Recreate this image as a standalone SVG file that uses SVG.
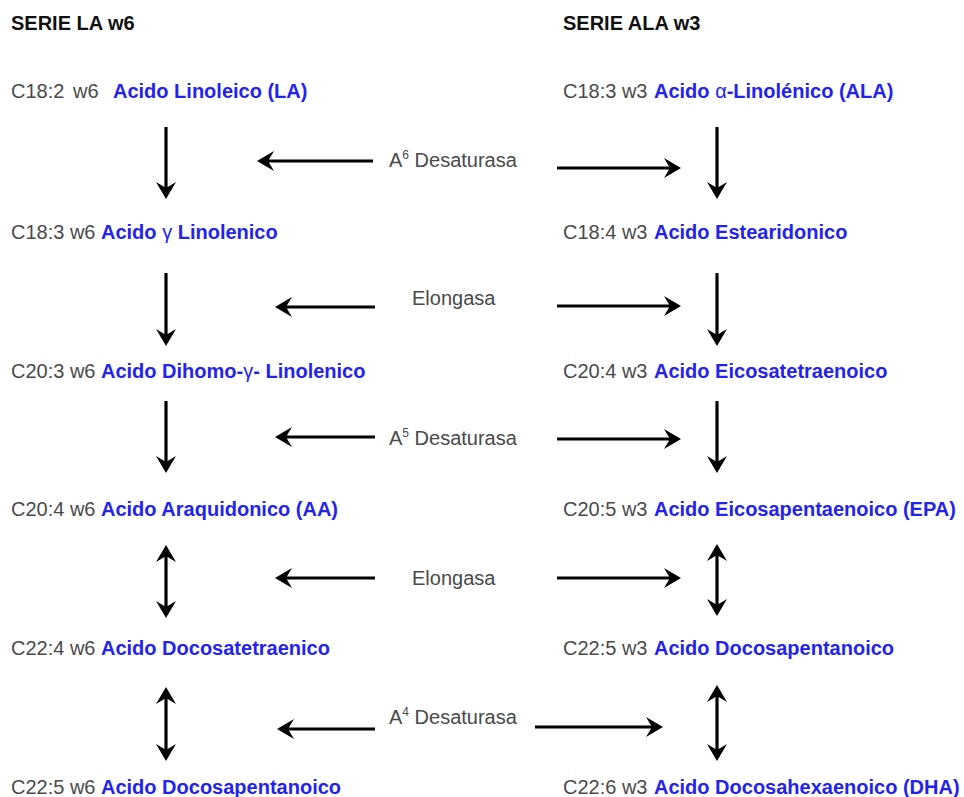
<svg xmlns="http://www.w3.org/2000/svg" width="964" height="797" viewBox="0 0 964 797">
<defs>
<marker id="ah" markerUnits="userSpaceOnUse" markerWidth="18" markerHeight="22" refX="8" refY="11" orient="auto-start-reverse" viewBox="0 0 18 22">
<path d="M17,11 L0,1 L6,11 L0,21 Z" fill="#000"/>
</marker>
</defs>
<style>
text{font-family:"Liberation Sans",Arial,sans-serif;font-size:20px}
.hd{font-weight:bold;fill:#111}
.cd{fill:#4a4a4a}
.nm{font-weight:bold;fill:#2323f0}
.en{fill:#4a4a4a}
.sup{font-size:12px}
.gr{font-weight:normal}
.ar{stroke:#000;stroke-width:3.2;fill:none;marker-end:url(#ah)}
.ad{stroke:#000;stroke-width:3.2;fill:none;marker-end:url(#ah);marker-start:url(#ah)}
</style>
<rect width="964" height="797" fill="#fff"/>
<g id="headers">
<text class="hd" x="11" y="30">SERIE LA w6</text>
<text class="hd" x="563" y="30">SERIE ALA w3</text>
</g>
<g id="la"><text class="cd" x="11" y="98">C18:2</text><text class="cd" x="73" y="98">w6</text><text class="nm" x="113" y="98">Acido Linoleico (LA)</text></g>
<g id="gla"><text class="cd" x="11" y="239">C18:3 w6</text><text class="nm" x="101" y="239">Acido <tspan class="gr">γ</tspan> Linolenico</text></g>
<g id="dgla"><text class="cd" x="11" y="378">C20:3 w6</text><text class="nm" x="101" y="378">Acido Dihomo-<tspan class="gr">γ</tspan>- Linolenico</text></g>
<g id="aa"><text class="cd" x="11" y="516">C20:4 w6</text><text class="nm" x="101" y="516">Acido Araquidonico (AA)</text></g>
<g id="dta"><text class="cd" x="11" y="655">C22:4 w6</text><text class="nm" x="101" y="655">Acido Docosatetraenico</text></g>
<g id="dpa6"><text class="cd" x="11" y="794">C22:5 w6</text><text class="nm" x="101" y="794">Acido Docosapentanoico</text></g>
<g id="ala"><text class="cd" x="563" y="98">C18:3 w3</text><text class="nm" x="654" y="98">Acido <tspan class="gr">α</tspan>-Linolénico (ALA)</text></g>
<g id="sda"><text class="cd" x="563" y="239">C18:4 w3</text><text class="nm" x="654" y="239">Acido Estearidonico</text></g>
<g id="eta"><text class="cd" x="563" y="378">C20:4 w3</text><text class="nm" x="654" y="378">Acido Eicosatetraenoico</text></g>
<g id="epa"><text class="cd" x="563" y="516">C20:5 w3</text><text class="nm" x="654" y="516">Acido Eicosapentaenoico (EPA)</text></g>
<g id="dpa3"><text class="cd" x="563" y="655">C22:5 w3</text><text class="nm" x="654" y="655">Acido Docosapentanoico</text></g>
<g id="dha"><text class="cd" x="563" y="794">C22:6 w3</text><text class="nm" x="654" y="794">Acido Docosahexaenoico (DHA)</text></g>
<g id="enzymes">
<text class="en" x="389" y="167">A<tspan class="sup" dy="-8">6</tspan><tspan dy="8"> Desaturasa</tspan></text>
<text class="en" x="412" y="305">Elongasa</text>
<text class="en" x="389" y="445">A<tspan class="sup" dy="-8">5</tspan><tspan dy="8"> Desaturasa</tspan></text>
<text class="en" x="412" y="585">Elongasa</text>
<text class="en" x="389" y="724">A<tspan class="sup" dy="-8">4</tspan><tspan dy="8"> Desaturasa</tspan></text>
</g>
<g id="connectors">
<line class="ar" x1="166" y1="127" x2="166" y2="190"/>
<line class="ar" x1="166" y1="273" x2="166" y2="337"/>
<line class="ar" x1="166" y1="401" x2="166" y2="464"/>
<line class="ad" x1="166" y1="554" x2="166" y2="609"/>
<line class="ad" x1="166" y1="696" x2="166" y2="752"/>
<line class="ar" x1="717" y1="127" x2="717" y2="190"/>
<line class="ar" x1="717" y1="273" x2="717" y2="337"/>
<line class="ar" x1="717" y1="401" x2="717" y2="464"/>
<line class="ad" x1="717" y1="553" x2="717" y2="607"/>
<line class="ad" x1="717" y1="694" x2="717" y2="752"/>
<line class="ar" x1="373" y1="161" x2="266" y2="161"/>
<line class="ar" x1="557" y1="168" x2="672" y2="168"/>
<line class="ar" x1="375" y1="307" x2="284" y2="307"/>
<line class="ar" x1="557" y1="306" x2="672" y2="306"/>
<line class="ar" x1="375" y1="437" x2="284" y2="437"/>
<line class="ar" x1="557" y1="439" x2="672" y2="439"/>
<line class="ar" x1="375" y1="578" x2="284" y2="578"/>
<line class="ar" x1="557" y1="578" x2="672" y2="578"/>
<line class="ar" x1="375" y1="729" x2="286" y2="729"/>
<line class="ar" x1="535" y1="727" x2="654" y2="727"/>
</g>
</svg>
